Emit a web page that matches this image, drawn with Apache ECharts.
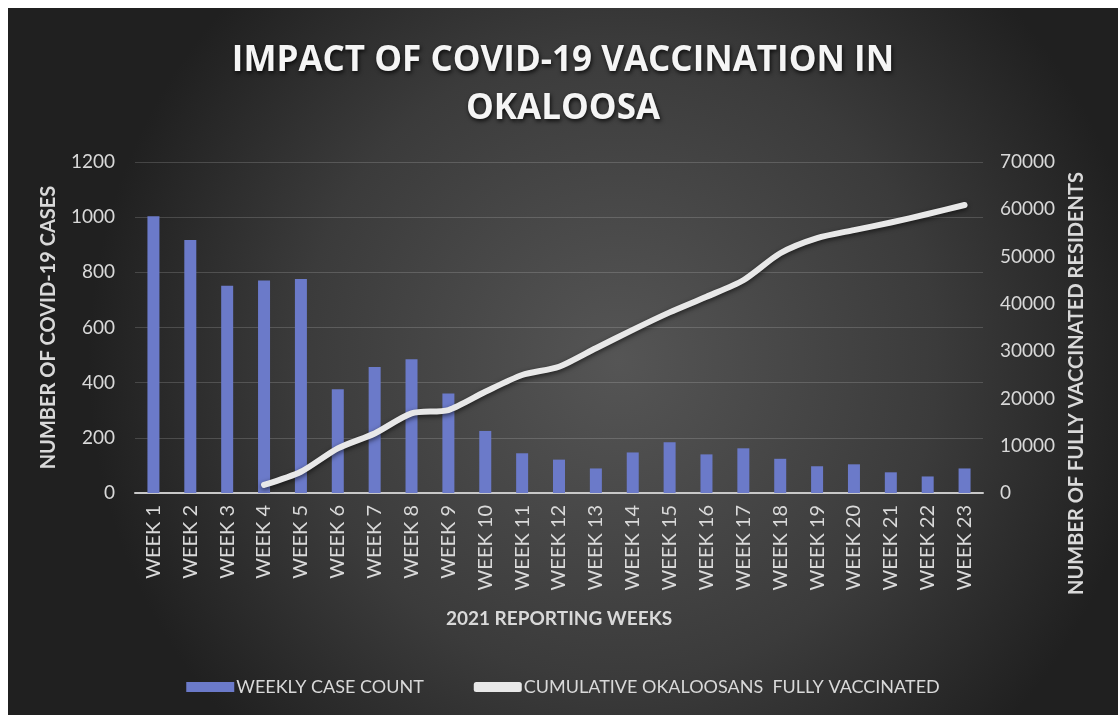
<!DOCTYPE html>
<html>
<head>
<meta charset="utf-8">
<script src="https://cdn.jsdelivr.net/npm/echarts@6/dist/echarts.min.js"></script>
<style>
  html, body { margin: 0; padding: 0; background: #ffffff; }
  #chart { position: absolute; left: 8px; top: 8px; width: 1110px; height: 707px; }
</style>
</head>
<body>
<div id="chart"></div>
<script>
var weeks = ['WEEK 1', 'WEEK 2', 'WEEK 3', 'WEEK 4', 'WEEK 5', 'WEEK 6', 'WEEK 7', 'WEEK 8',
  'WEEK 9', 'WEEK 10', 'WEEK 11', 'WEEK 12', 'WEEK 13', 'WEEK 14', 'WEEK 15', 'WEEK 16',
  'WEEK 17', 'WEEK 18', 'WEEK 19', 'WEEK 20', 'WEEK 21', 'WEEK 22', 'WEEK 23'];

// weekly case count (left axis)
var weeklyCases = [1003, 917, 751, 770, 776, 376, 457, 485, 361, 225, 144, 121, 89, 147,
  184, 140, 162, 124, 97, 104, 75, 60, 89];

// cumulative fully vaccinated (right axis), starts at week 4
var vaccinated = [null, null, null, 1700, 4500, 9450, 12600, 16850, 17550, 21400, 24950,
  26700, 30600, 34500, 38200, 41500, 45000, 50700, 53900, 55600, 57200, 59000, 60900];

var casesTicks = { min: 0, max: 1200, interval: 200 };
var vaccTicks = { min: 0, max: 70000, interval: 10000 };

var txt = '#d9d9d9';
var font = 'Lato';

var dom = document.getElementById('chart');
var myChart = echarts.init(dom);

function plain(v) {
  return String(v);
}

var option = {
  animation: false,
  backgroundColor: {
    type: 'radial', x: 0.55, y: 0.5, r: 0.75,
    colorStops: [
      { offset: 0, color: '#555555' },
      { offset: 0.6, color: '#3b3b3b' },
      { offset: 1, color: '#202020' }
    ]
  },
  textStyle: { fontFamily: font },
  title: {
    text: 'IMPACT OF COVID-19 VACCINATION IN\nOKALOOSA',
    left: 'center',
    top: 24,
    textStyle: {
      color: '#f5f5f5',
      fontFamily: 'Open Sans',
      fontWeight: 'bold',
      fontSize: 35,
      lineHeight: 48,
      textShadowColor: 'rgba(0,0,0,0.8)',
      textShadowBlur: 4,
      textShadowOffsetX: 1,
      textShadowOffsetY: 2
    }
  },
  legend: {
    bottom: 14,
    left: 'center',
    itemWidth: 48,
    itemHeight: 10,
    itemGap: 50,
    textStyle: { color: txt, fontSize: 18, fontFamily: font, padding: [0, 0, 0, -3] },
    data: [
      { name: 'WEEKLY CASE COUNT', icon: 'rect' },
      { name: 'CUMULATIVE OKALOOSANS  FULLY VACCINATED', icon: 'roundRect', itemStyle: { color: '#e8e8e8' } }
    ]
  },
  grid: { left: 127, right: 135, top: 154, bottom: 222 },
  xAxis: {
    type: 'category',
    data: weeks,
    name: '2021 REPORTING WEEKS',
    nameLocation: 'middle',
    nameGap: 116,
    nameTextStyle: { color: txt, fontSize: 19, fontWeight: 'bold', fontFamily: font },
    axisLine: { lineStyle: { color: '#c8c8c8', width: 2 } },
    axisTick: { show: false },
    axisLabel: { color: txt, fontSize: 20, rotate: 90, margin: 12, fontFamily: font }
  },
  yAxis: [
    {
      type: 'value',
      min: casesTicks.min, max: casesTicks.max, interval: casesTicks.interval,
      name: 'NUMBER OF COVID-19 CASES',
      nameLocation: 'middle',
      nameRotate: 90,
      nameGap: 76,
      nameTextStyle: { color: txt, fontSize: 20, fontWeight: 'bold', fontFamily: font },
      axisLabel: { color: txt, fontSize: 19, margin: 20, fontFamily: font, formatter: plain },
      axisLine: { show: false },
      axisTick: { show: false },
      splitLine: { lineStyle: { color: 'rgba(255,255,255,0.16)', width: 1 } }
    },
    {
      type: 'value',
      min: vaccTicks.min, max: vaccTicks.max, interval: vaccTicks.interval,
      name: 'NUMBER OF FULLY VACCINATED RESIDENTS',
      nameLocation: 'middle',
      nameRotate: 90,
      nameGap: 84,
      nameTextStyle: { color: txt, fontSize: 20, fontWeight: 'bold', fontFamily: font, padding: [0, 112, 0, 0] },
      axisLabel: { color: txt, fontSize: 19, margin: 17, fontFamily: font, formatter: plain },
      axisLine: { show: false },
      axisTick: { show: false },
      splitLine: { show: false }
    }
  ],
  series: [
    {
      name: 'WEEKLY CASE COUNT',
      type: 'bar',
      yAxisIndex: 0,
      barWidth: 12,
      itemStyle: { color: '#6b7ac9' },
      data: weeklyCases
    },
    {
      name: 'CUMULATIVE OKALOOSANS  FULLY VACCINATED',
      type: 'line',
      yAxisIndex: 1,
      smooth: 0.25,
      showSymbol: false,
      symbol: 'none',
      itemStyle: { color: '#e8e8e8' },
      lineStyle: {
        color: '#e8e8e8', width: 6, cap: 'round', join: 'round',
        shadowColor: 'rgba(0,0,0,0.6)', shadowBlur: 5, shadowOffsetY: 2
      },
      data: vaccinated
    }
  ]
};

if (option && typeof option === 'object') {
  myChart.setOption(option);
}
</script>
</body>
</html>
